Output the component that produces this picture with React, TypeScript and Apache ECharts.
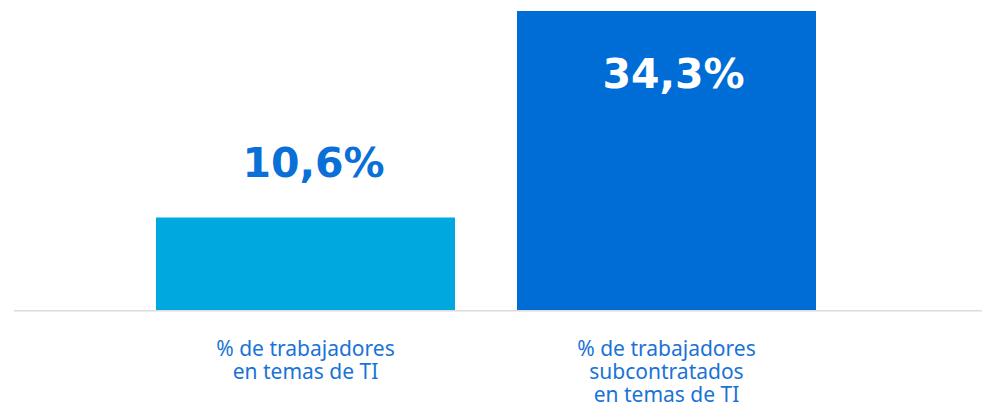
import React, { useEffect, useRef } from "react";
import * as echarts from "echarts";

const categories = [
  "% de trabajadores\nen temas de TI",
  "% de trabajadores\nsubcontratados\nen temas de TI",
];
const values = [10.6, 34.3];
const valueLabels = ["10,6%", "34,3%"];
const barColors = ["#00a8e0", "#006dd6"];

export default function App() {
  const ref = useRef<HTMLDivElement>(null);
  useEffect(() => {
    if (!ref.current) return;
    const chart = echarts.init(ref.current, null, { renderer: "svg" });
    const valueFont = {
      fontFamily: "DejaVu Sans",
      fontWeight: "bold",
      fontSize: 41,
    };
    chart.setOption({
      animation: false,
      grid: { left: 125, width: 722, top: 11, bottom: 96 },
      xAxis: {
        type: "category",
        data: categories,
        axisLine: { show: false },
        axisTick: { show: false },
        axisLabel: {
          color: "#1a73d6",
          fontFamily: "Noto Sans",
          fontSize: 21,
          lineHeight: 23,
          margin: 26,
          interval: 0,
        },
      },
      yAxis: {
        type: "value",
        min: 0,
        max: 34.3,
        show: false,
        splitLine: { show: false },
      },
      series: [
        {
          type: "bar",
          barWidth: 299,
          z: 2,
          data: values.map((v, i) => ({
            value: v,
            itemStyle: { color: barColors[i] },
            label:
              i === 0
                ? {
                    show: true,
                    position: "top",
                    distance: 34,
                    offset: [8, 0],
                    formatter: valueLabels[i],
                    color: "#0a6fd6",
                    ...valueFont,
                  }
                : {
                    show: true,
                    position: "insideTop",
                    distance: 42,
                    offset: [7, 0],
                    formatter: valueLabels[i],
                    color: "#ffffff",
                    ...valueFont,
                  },
          })),
        },
      ],
    });
    const baseY = chart.convertToPixel({ yAxisIndex: 0 }, 0) as number;
    chart.setOption({
      graphic: [
        {
          type: "line",
          shape: { x1: 14, y1: baseY + 0.75, x2: 982, y2: baseY + 0.75 },
          style: { stroke: "#dcdcdc", lineWidth: 1.5 },
          z: 0,
        },
      ],
    });
    return () => chart.dispose();
  }, []);
  return <div ref={ref} style={{ width: 982, height: 406, position: "absolute", left: 0, top: 0 }} />;
}
